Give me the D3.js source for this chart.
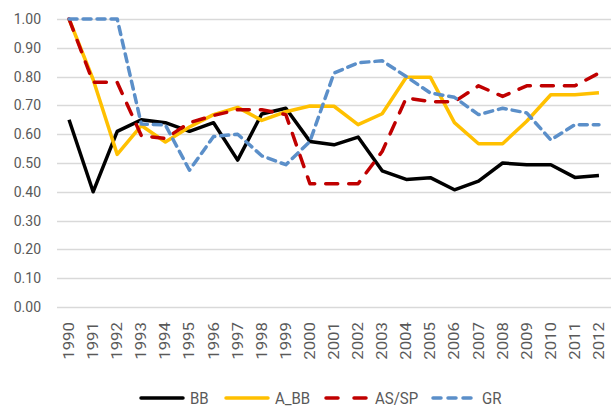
<!DOCTYPE html>
<html>
  <head>
    <meta charset="utf-8">
    <title>BB / A_BB / AS/SP / GR</title>
    <script src="https://d3js.org/d3.v7.min.js" type="text/javascript"></script>
    <style>
      body { margin: 0; background: #fff; }
      text { font-family: Roboto, "Liberation Sans", sans-serif; fill: #595959; }
    </style>
  </head>
  <body>
    <script>
      // data
      var years = ["1990","1991","1992","1993","1994","1995","1996","1997","1998","1999","2000","2001",
                   "2002","2003","2004","2005","2006","2007","2008","2009","2010","2011","2012"];
      var bb   = [0.65,0.40,0.61,0.65,0.64,0.61,0.64,0.51,0.67,0.69,0.575,0.563,0.59,0.473,0.443,0.449,0.407,0.437,0.50,0.494,0.494,0.45,0.457];
      var a_bb = [1.00,0.79,0.53,0.63,0.573,0.625,0.668,0.693,0.648,0.678,0.698,0.697,0.633,0.671,0.798,0.798,0.64,0.567,0.567,0.645,0.737,0.737,0.744];
      var assp = [1.00,0.78,0.78,0.595,0.585,0.64,0.665,0.685,0.685,0.668,0.428,0.428,0.428,0.54,0.726,0.713,0.713,0.768,0.731,0.768,0.768,0.768,0.812];
      var gr   = [1.00,1.00,1.00,0.635,0.632,0.475,0.592,0.60,0.525,0.494,0.575,0.812,0.848,0.855,0.80,0.743,0.728,0.668,0.69,0.674,0.58,0.633,0.633];
      var yTicks = [0,0.1,0.2,0.3,0.4,0.5,0.6,0.7,0.8,0.9,1.0];

      var series = [
        {name: "BB",    values: bb,   color: "#000000", dash: null},
        {name: "A_BB",  values: a_bb, color: "#FFC000", dash: null},
        {name: "AS/SP", values: assp, color: "#C00000", dash: "12,11"},
        {name: "GR",    values: gr,   color: "#5B8FC9", dash: "8,6"}
      ];

      var w = 614, h = 410;
      var plotL = 57, plotR = 611, plotT = 19, plotB = 307;

      var svg = d3.select("body").append("svg")
                  .attr("width", w)
                  .attr("height", h);

      var x = d3.scaleBand().domain(years).range([plotL, plotR]);
      var y = d3.scaleLinear().domain([0, 1]).range([plotB, plotT]);

      // gridlines
      svg.append("g").selectAll("line")
        .data(yTicks).enter().append("line")
        .attr("x1", plotL).attr("x2", plotR)
        .attr("y1", function(d) { return Math.round(y(d)) + 0.5; })
        .attr("y2", function(d) { return Math.round(y(d)) + 0.5; })
        .style("stroke", "#d9d9d9")
        .style("stroke-width", 1.3);

      // y axis labels
      var yAxis = d3.axisLeft(y).tickValues(yTicks).tickFormat(d3.format(".2f")).tickSize(0).tickPadding(16);
      var gy = svg.append("g").attr("transform", "translate(" + plotL + ",0)").call(yAxis);
      gy.select(".domain").remove();
      gy.selectAll("text").style("font-size", "14px").style("fill", "#595959")
        .style("font-family", "Roboto, sans-serif");

      // x axis labels, rotated
      svg.append("g").selectAll("text")
        .data(years).enter().append("text")
        .attr("transform", function(d) {
          return "translate(" + (x(d) + x.bandwidth() / 2 + 5) + ",322) rotate(-90) scale(1.2,1)";
        })
        .attr("text-anchor", "end")
        .style("font-size", "14px")
        .text(function(d) { return d; });

      // lines
      var line = d3.line()
        .x(function(v, i) { return x(years[i]) + x.bandwidth() / 2; })
        .y(function(v) { return y(v); });

      svg.append("g").selectAll("path")
        .data(series).enter().append("path")
        .attr("d", function(d) { return line(d.values); })
        .style("fill", "none")
        .style("stroke", function(d) { return d.color; })
        .style("stroke-width", 3.5)
        .style("stroke-dasharray", function(d) { return d.dash; })
        .style("stroke-linecap", function(d) { return d.dash ? "round" : "butt"; })
        .style("stroke-linejoin", "round");

      // legend
      var legendX = [140, 225, 325, 432];
      var lg = svg.append("g").selectAll("g")
        .data(series).enter().append("g")
        .attr("transform", function(d, i) { return "translate(" + legendX[i] + ",398)"; });

      lg.append("line")
        .attr("x1", 1).attr("x2", 43).attr("y1", 0).attr("y2", 0)
        .style("stroke", function(d) { return d.color; })
        .style("stroke-width", 3.5)
        .style("stroke-linecap", "round")
        .style("stroke-dasharray", function(d) { return d.name == "AS/SP" ? "12,16" : (d.name == "GR" ? "8,7" : null); });

      lg.append("text")
        .attr("x", 50).attr("y", 6)
        .attr("transform", "scale(1,1.1)")
        .attr("dy", "-0.6")
        .style("font-size", "15px")
        .text(function(d) { return d.name; });
    </script>
  </body>
</html>
